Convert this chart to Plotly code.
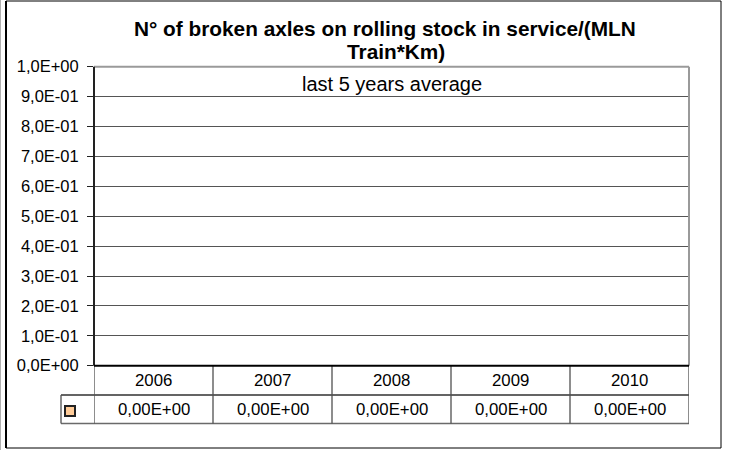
import plotly.graph_objects as go

# ---- data ----
years = ["2006", "2007", "2008", "2009", "2010"]
values = [0.0, 0.0, 0.0, 0.0, 0.0]
y_ticks = [0.0, 0.1, 0.2, 0.3, 0.4, 0.5, 0.6, 0.7, 0.8, 0.9, 1.0]
title_line1 = "N° of broken axles on rolling stock in service/(MLN"
title_line2 = "Train*Km)"
subtitle = "last 5 years average"

W, H = 731, 450


def px(x):
    return x / W


def py(y):
    return 1 - y / H


def sci1(v):
    return f"{v:.1E}".replace(".", ",")


def sci2(v):
    return f"{v:.2E}".replace(".", ",")


PL, PR, PT, PB = 94, 689, 66.7, 365.7
ROW1, ROW2 = 395, 423.5
LEG_L = 61

FONT = "Liberation Sans, Arial, sans-serif"

fig = go.Figure()
fig.add_trace(go.Bar(x=years, y=values, marker=dict(color="#FFCC99", line=dict(color="black", width=1)),
                     showlegend=False, hoverinfo="skip"))

shapes = []
# outer chart border
shapes.append(dict(type="line", xref="paper", yref="paper", x0=px(0.5), x1=px(0.5), y0=0, y1=1,
                   line=dict(color="#b0b0b0", width=1)))
shapes.append(dict(type="rect", xref="paper", yref="paper", x0=px(6), x1=px(721), y0=py(448), y1=py(1),
                   line=dict(color="black", width=1)))
shapes.append(dict(type="line", xref="paper", yref="paper", x0=px(6), x1=px(6), y0=py(448), y1=py(1),
                   line=dict(color="black", width=2)))
# plot area top and right border (gray)
shapes.append(dict(type="line", xref="paper", yref="paper", x0=px(PL), x1=px(PR), y0=py(PT), y1=py(PT),
                   line=dict(color="#9a9a9a", width=2)))
shapes.append(dict(type="line", xref="paper", yref="paper", x0=px(PR), x1=px(PR), y0=py(PB), y1=py(PT),
                   line=dict(color="#9a9a9a", width=2)))
# table: horizontal lines
shapes.append(dict(type="line", xref="paper", yref="paper", x0=px(LEG_L), x1=px(PR), y0=py(ROW1), y1=py(ROW1),
                   line=dict(color="#303030", width=1.3)))
shapes.append(dict(type="line", xref="paper", yref="paper", x0=px(LEG_L), x1=px(PR), y0=py(ROW2), y1=py(ROW2),
                   line=dict(color="#6a6a6a", width=1.6)))
# legend cell left edge
shapes.append(dict(type="line", xref="paper", yref="paper", x0=px(LEG_L), x1=px(LEG_L), y0=py(ROW2), y1=py(ROW1),
                   line=dict(color="#505050", width=1.3)))
# table column lines (category boundaries)
n = len(years)
for i in range(n + 1):
    xb = i - 0.5
    shapes.append(dict(type="line", xref="x", yref="paper", x0=xb, x1=xb, y0=py(ROW2), y1=py(PB),
                       line=dict(color="#505050", width=1.3)))
# y axis line
shapes.append(dict(type="line", xref="paper", yref="paper", x0=px(PL), x1=px(PL), y0=py(PB), y1=py(PT),
                   line=dict(color="#222222", width=2)))
# zero / table top line
shapes.append(dict(type="line", xref="paper", yref="paper", x0=px(PL), x1=px(PR), y0=py(PB), y1=py(PB),
                   line=dict(color="black", width=2)))
# legend key
shapes.append(dict(type="rect", xref="paper", yref="paper", x0=px(65), x1=px(75), y0=py(416), y1=py(406),
                   fillcolor="#FFCC99", line=dict(color="#222222", width=2)))

annotations = []
annotations.append(dict(text=f"<b>{title_line1}</b>", xref="paper", yref="paper", x=px(385), y=py(29),
                        showarrow=False, font=dict(size=20.8, color="black", family=FONT),
                        xanchor="center", yanchor="middle"))
annotations.append(dict(text=f"<b>{title_line2}</b>", xref="paper", yref="paper", x=px(396), y=py(52),
                        showarrow=False, font=dict(size=20.8, color="black", family=FONT),
                        xanchor="center", yanchor="middle"))
annotations.append(dict(text=subtitle, xref="paper", yref="paper", x=px(391.5), y=py(84),
                        showarrow=False, font=dict(size=20, color="black", family=FONT),
                        xanchor="center", yanchor="middle"))
for i, (yr, v) in enumerate(zip(years, values)):
    annotations.append(dict(text=yr, xref="x", yref="paper", x=i, y=py((PB + ROW1) / 2),
                            showarrow=False, font=dict(size=16.8, color="black", family=FONT),
                            xanchor="center", yanchor="middle"))
    annotations.append(dict(text=sci2(v), xref="x", yref="paper", x=i, y=py((ROW1 + ROW2) / 2),
                            showarrow=False, font=dict(size=16.8, color="black", family=FONT),
                            xanchor="center", yanchor="middle"))

fig.update_layout(
    width=W, height=H, autosize=False,
    margin=dict(l=0, r=0, t=0, b=0, pad=0),
    paper_bgcolor="white", plot_bgcolor="white",
    font=dict(family=FONT, color="black"),
    xaxis=dict(domain=[px(PL), px(PR)], type="category", range=[-0.5, n - 0.5], automargin=False,
               showticklabels=False, showgrid=False, zeroline=False, showline=False, ticks=""),
    yaxis=dict(domain=[py(PB), py(PT)], range=[0, 1], tickvals=y_ticks, automargin=False,
               ticktext=[sci1(v) for v in y_ticks],
               showgrid=True, gridcolor="#555555", gridwidth=1, zeroline=False, showline=False,
               ticks="outside", ticklen=6, tickcolor="#222222", tickwidth=1,
               ticklabelstandoff=5,
               tickfont=dict(size=16.5, color="black", family=FONT)),
    shapes=shapes,
    annotations=annotations,
    bargap=0.5,
)

fig.write_html("out.html", config={"responsive": False, "displayModeBar": False})
